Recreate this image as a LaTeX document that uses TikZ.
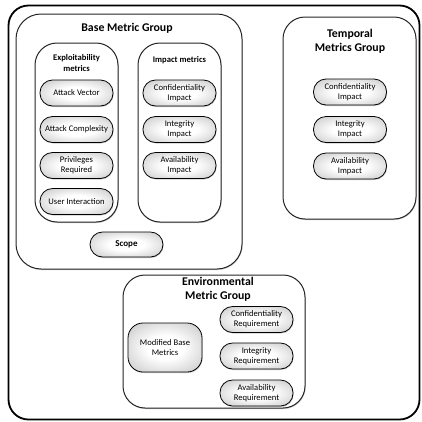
\documentclass[tikz,border=0pt]{standalone}
\usepackage{fontspec}
\setmainfont{Carlito}
\usetikzlibrary{shadows}
\pgfdeclareradialshading{pillshade}{\pgfpoint{0bp}{0bp}}{%
  color(0bp)=(white); color(12bp)=(white); color(50bp)=(black!36); color(72bp)=(black!36)}
\tikzset{
  x=1pt, y=-1pt,
  frame/.style={draw=black, line width=1.8pt, rounded corners=20pt, inner sep=0pt},
  groupbox/.style={draw=black!85, line width=1pt, rounded corners=#1, inner sep=0pt,
    fill=white, drop shadow={shadow xshift=0.6pt, shadow yshift=-1pt, opacity=0.45}},
  groupbox/.default=22pt,
  pill/.style={draw=black, line width=0.8pt, rounded corners=12.5pt, shading=pillshade,
    minimum width=73pt, minimum height=26pt, inner sep=0pt, align=center,
    font=\fontsize{8.6}{10}\selectfont,
    drop shadow={shadow xshift=0.6pt, shadow yshift=-1pt, opacity=0.4}},
  grouptitle/.style={inner sep=0pt, align=center, font=\fontsize{11.8}{14}\selectfont\bfseries},
  subtitle/.style={inner sep=0pt, align=center, font=\fontsize{8.6}{10.5}\selectfont\bfseries},
}
\begin{document}
\begin{tikzpicture}
\useasboundingbox (0,0) rectangle (422,421);

% outer frame
\node[frame, minimum width=411pt, minimum height=414pt] (frame) at (214,212.5) {};

% base metric group
\node[groupbox=25pt, minimum width=226pt, minimum height=255pt] (base) at (129,141.5) {};
\node[grouptitle] (basetitle) at (127,28) {Base Metric Group};

\node[groupbox, minimum width=83pt, minimum height=179pt] (exploit) at (76.5,132.5) {};
\node[subtitle] (exploittitle) at (76.5,63) {Exploitability\\metrics};

\node[groupbox, minimum width=83pt, minimum height=179pt] (impact) at (179.5,132.5) {};
\node[subtitle] (impacttitle) at (179.5,60.5) {Impact metrics};

\node[pill] (av) at (76.5,93) {Attack Vector};
\node[pill] (ac) at (76.5,129.5) {Attack Complexity};
\node[pill] (pr) at (76.5,165.5) {Privileges\\Required};
\node[pill] (ui) at (76.5,201.5) {User Interaction};

\node[pill] (ci) at (179.5,93) {Confidentiality\\Impact};
\node[pill] (ii) at (179.5,129.5) {Integrity\\Impact};
\node[pill] (ai) at (179.5,165.5) {Availability\\Impact};

\node[pill, minimum height=25pt, font=\fontsize{9}{11}\selectfont\bfseries] (scope) at (126.5,244.5) {Scope};

% temporal metrics group
\node[groupbox, minimum width=133pt, minimum height=202pt] (temporal) at (349.5,118) {};
\node[grouptitle] (temporaltitle) at (350,41) {Temporal\\Metrics Group};

\node[pill] (tci) at (350,92) {Confidentiality\\Impact};
\node[pill] (tii) at (350,129.5) {Integrity\\Impact};
\node[pill] (tai) at (350,166) {Availability\\Impact};

% environmental metric group
\node[groupbox, minimum width=182pt, minimum height=133pt] (env) at (214,341.5) {};
\node[grouptitle] (envtitle) at (218,289.5) {Environmental\\Metric Group};

\node[pill, minimum width=74pt, minimum height=49pt, rounded corners=15pt] (mbm) at (165,347.5) {Modified Base\\Metrics};
\node[pill] (cr) at (256.5,319.5) {Confidentiality\\Requirement};
\node[pill] (ir) at (256.5,356) {Integrity\\Requirement};
\node[pill] (ar) at (256.5,393) {Availability\\Requirement};
\end{tikzpicture}
\end{document}
